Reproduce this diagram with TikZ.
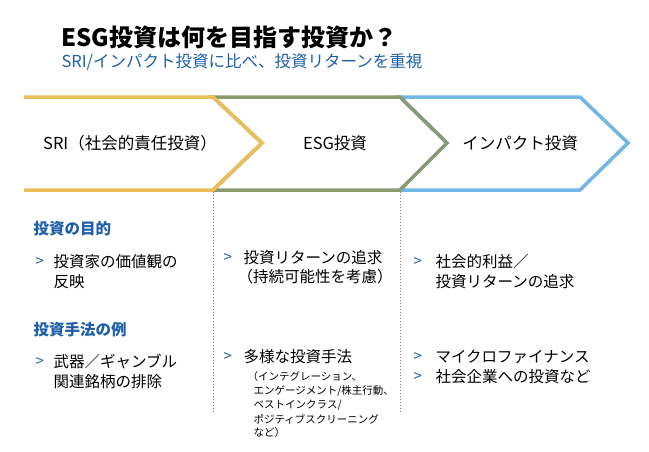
\documentclass[tikz,border=0pt]{standalone}
\usepackage{fontspec}
\setmainfont{Noto Sans CJK JP}
\definecolor{esgblue}{HTML}{1F5FA8}
\definecolor{sriyellow}{HTML}{EBBE57}
\definecolor{esggreen}{HTML}{8A9B70}
\definecolor{impblue}{HTML}{72B6E6}
\tikzset{
  chev/.style={line width=3.5pt, line join=miter},
  head/.style={font=\fontsize{16.5}{19}\selectfont, anchor=center},
  sect/.style={font=\fontsize{15.5}{18}\selectfont\bfseries, text=esgblue, anchor=west},
  bul/.style={font=\fontsize{15}{18}\selectfont, text=esgblue, anchor=west},
  item/.style={font=\fontsize{15.5}{18}\selectfont, anchor=west},
  small/.style={font=\fontsize{10.5}{12}\selectfont, anchor=west},
  divider/.style={gray, line width=1pt, dotted}
}
\begin{document}
\begin{tikzpicture}[x=1pt,y=-1pt]
  \useasboundingbox (0,0) rectangle (649,451);
  % title
  \node[anchor=west, font=\fontsize{24}{28}\selectfont\bfseries] (title) at (58,37) {ESG投資は何を目指す投資か？};
  \node[anchor=west, font=\fontsize{16.5}{19}\selectfont, text=esgblue] (subtitle) at (58,62) {SRI/インパクト投資に比べ、投資リターンを重視};
  % chevrons
  \draw[chev, impblue] (400,97) -- (580,97) -- (628,143) -- (580,190) -- (400,190) -- (447,143) -- cycle;
  \draw[chev, esggreen] (213,97) -- (400,97) -- (447,143) -- (400,190) -- (213,190) -- (262,143) -- cycle;
  \draw[chev, sriyellow] (24,97) -- (213,97) -- (262,143) -- (213,190) -- (24,190);
  \node[head] (sri) at (130,143) {SRI（社会的責任投資）};
  \node[head] (esg) at (335,143) {ESG投資};
  \node[head] (impact) at (520,143) {インパクト投資};
  % dividers
  \coordinate (d1top) at (213,192); \coordinate (d1bot) at (213,412);
  \coordinate (d2top) at (400,192); \coordinate (d2bot) at (400,412);
  \draw[divider] (d1top) -- (d1bot);
  \draw[divider] (d2top) -- (d2bot);
  % column 1
  \node[sect] (purpose) at (30,229) {投資の目的};
  \node[bul] (b11) at (32,262) {>};
  \node[item] (t11) at (50,262) {投資家の価値観の};
  \node[item] (t12) at (50,282) {反映};
  \node[sect] (method) at (30,330) {投資手法の例};
  \node[bul] (b12) at (32,362) {>};
  \node[item] (t13) at (50,362) {武器／ギャンブル};
  \node[item] (t14) at (50,382) {関連銘柄の排除};
  % column 2
  \node[bul] (b21) at (220,258) {>};
  \node[item] (t21) at (240,258) {投資リターンの追求};
  \node[item] (t22) at (234,277) {（持続可能性を考慮）};
  \node[bul] (b22) at (220,357) {>};
  \node[item] (t23) at (240,357) {多様な投資手法};
  \node[small] (s1) at (244,377) {（インテグレーション、};
  \node[small] (s2) at (250,391) {エンゲージメント/株主行動、};
  \node[small] (s3) at (250,405) {ベストインクラス/};
  \node[small] (s4) at (250,419) {ポジティブスクリーニング};
  \node[small] (s5) at (250,433) {など）};
  % column 3
  \node[bul] (b31) at (410,262) {>};
  \node[item] (t31) at (432,262) {社会的利益／};
  \node[item] (t32) at (432,282) {投資リターンの追求};
  \node[bul] (b32) at (410,357) {>};
  \node[item] (t33) at (432,357) {マイクロファイナンス};
  \node[bul] (b33) at (410,377) {>};
  \node[item] (t34) at (432,377) {社会企業への投資など};
\end{tikzpicture}
\end{document}
